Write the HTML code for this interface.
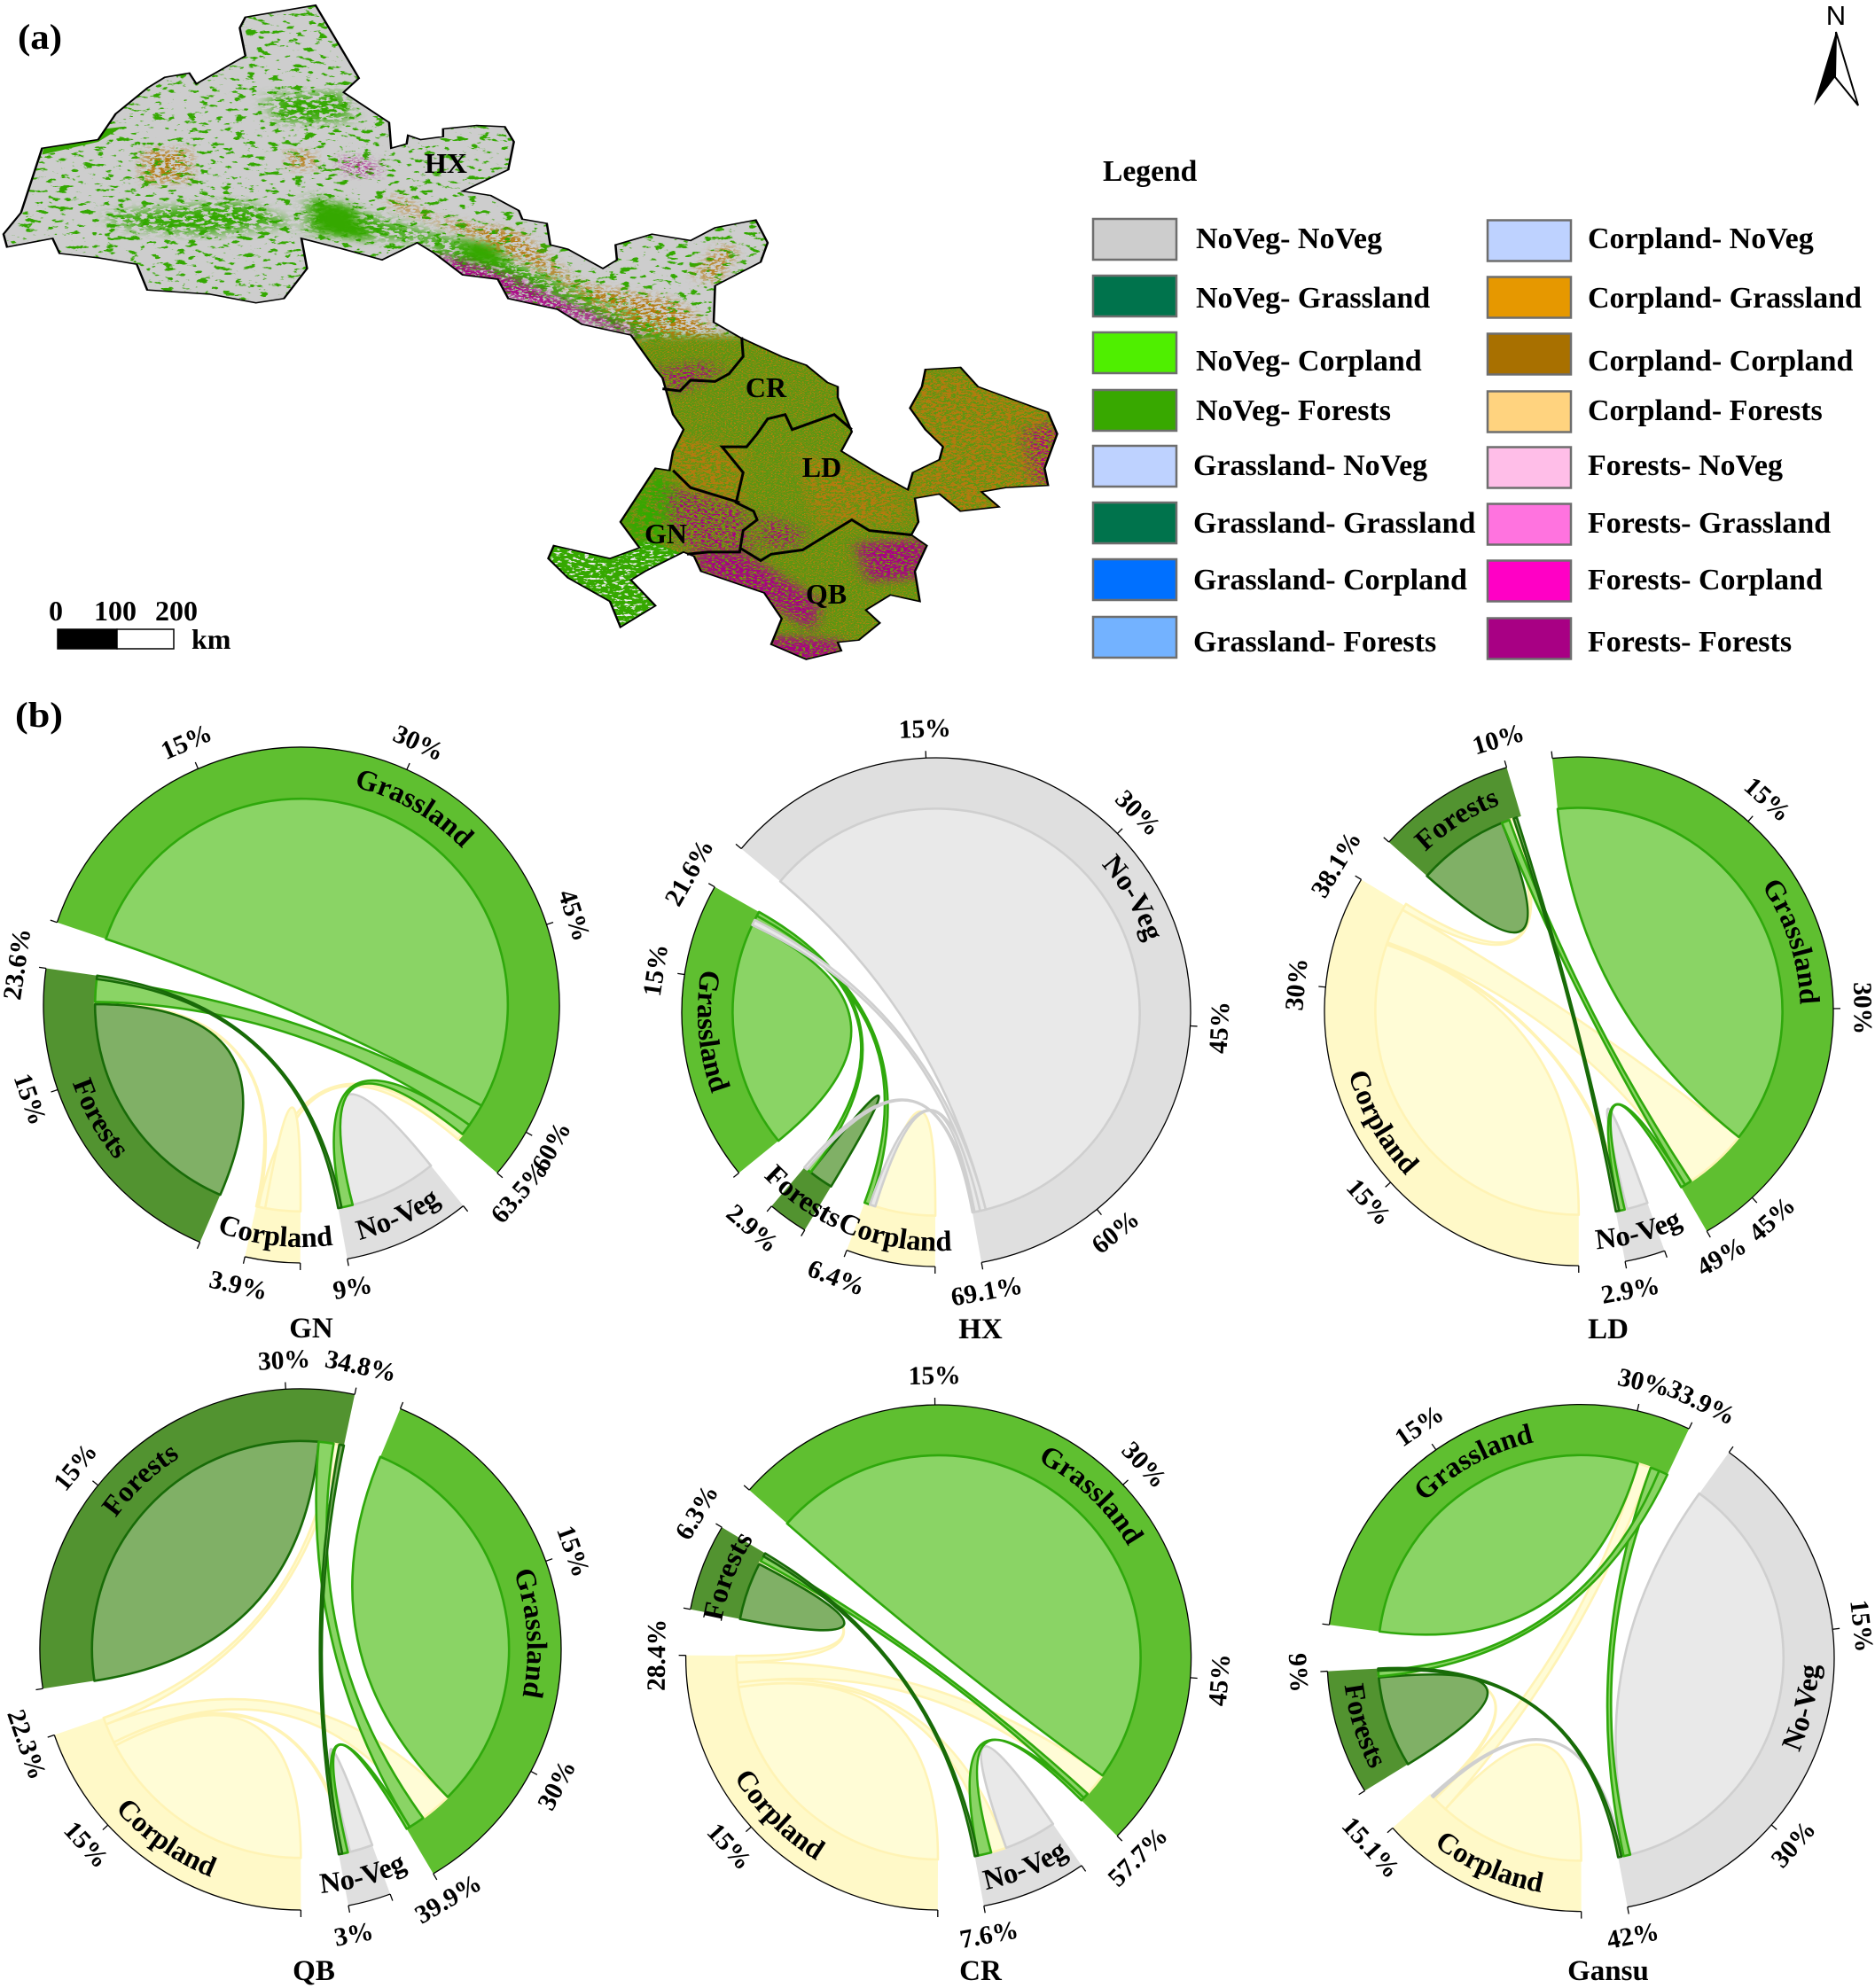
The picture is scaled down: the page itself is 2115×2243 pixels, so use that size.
<!DOCTYPE html>
<html lang="en">
<head>
<meta charset="utf-8">
<title>Land-use transition map and chord diagrams</title>
<style>
html,body{margin:0;padding:0;background:#fff;}
svg{display:block;}
text{font-family:"Liberation Serif",serif;font-weight:bold;fill:#000;}
</style>
</head>
<body>
<svg id="fig" xmlns="http://www.w3.org/2000/svg" width="2115" height="2243" viewBox="0 0 2115 2243">
<defs>
  <clipPath id="mapClip"><polygon id="mapShape" points="350,40 450,12 512,182 490,215 555,285 558,345 580,335 582,315 600,325 632,318 632,300 680,292 720,295 733,330 725,395 660,445 700,455 740,490 745,510 780,520 785,570 810,580 860,625 880,605 878,570 930,545 985,560 1020,530 1078,512 1095,565 1085,610 1020,665 1018,750 1055,785 1115,830 1150,850 1180,890 1195,900 1195,925 1205,965 1215,1005 1200,1050 1250,1100 1295,1140 1302,1100 1340,1070 1345,1040 1320,1000 1298,950 1315,900 1320,860 1370,855 1395,900 1495,960 1508,1010 1490,1090 1495,1130 1435,1135 1400,1145 1425,1180 1370,1190 1340,1150 1305,1160 1310,1215 1300,1245 1322,1270 1305,1330 1312,1400 1270,1385 1235,1420 1255,1450 1225,1490 1195,1495 1200,1515 1150,1535 1100,1500 1115,1440 1090,1380 1000,1330 990,1295 975,1285 920,1330 900,1350 935,1410 885,1460 870,1400 810,1345 782,1300 790,1270 870,1300 912,1275 885,1215 935,1090 955,1095 960,1050 975,1000 960,965 945,880 935,860 900,780 830,755 795,720 725,695 710,650 660,640 620,590 595,565 545,605 490,580 430,555 438,625 405,695 365,705 300,685 210,675 195,615 140,600 85,590 75,555 10,575 5,545 30,495 60,345 140,325 165,265 210,205 235,180 270,170 280,195 350,130 342,65"/></clipPath>

  <filter id="fSoft" x="-.2" y="-.2" width="1.4" height="1.4" color-interpolation-filters="sRGB">
    <feGaussianBlur stdDeviation="9"/>
  </filter>
  <filter id="fGreenSparse" x="0" y="0" width="1" height="1" color-interpolation-filters="sRGB">
    <feTurbulence type="fractalNoise" baseFrequency="0.06 0.1" numOctaves="4" seed="3"/>
    <feColorMatrix values="0 0 0 0 .2  0 0 0 0 .66  0 0 0 0 0  14 0 0 0 -8.5"/>
    <feComposite in2="SourceGraphic" operator="in"/>
  </filter>
  <filter id="fGreenDense" x="-.2" y="-.2" width="1.4" height="1.4" color-interpolation-filters="sRGB">
    <feGaussianBlur in="SourceAlpha" stdDeviation="12" result="m"/>
    <feTurbulence type="fractalNoise" baseFrequency="0.09 0.14" numOctaves="3" seed="8"/>
    <feColorMatrix values="0 0 0 0 .2  0 0 0 0 .66  0 0 0 0 0  14 0 0 0 -6"/>
    <feComposite in2="m" operator="in"/>
  </filter>
  <filter id="fBrown" x="-.2" y="-.2" width="1.4" height="1.4" color-interpolation-filters="sRGB">
    <feGaussianBlur in="SourceAlpha" stdDeviation="10" result="m"/>
    <feTurbulence type="fractalNoise" baseFrequency="0.14 0.22" numOctaves="3" seed="14"/>
    <feColorMatrix values="0 0 0 0 .71  0 0 0 0 .48  0 0 0 0 .06  14 0 0 0 -6.8"/>
    <feComposite in2="m" operator="in"/>
  </filter>
  <filter id="fBrownFine" x="0" y="0" width="1" height="1" color-interpolation-filters="sRGB">
    <feTurbulence type="fractalNoise" baseFrequency="0.38 0.55" numOctaves="2" seed="21"/>
    <feColorMatrix values="0 0 0 0 .74  0 0 0 0 .5  0 0 0 0 .05  14 0 0 0 -7.7"/>
    <feComposite in2="SourceGraphic" operator="in"/>
  </filter>
  <filter id="fMagenta" x="-.2" y="-.2" width="1.4" height="1.4" color-interpolation-filters="sRGB">
    <feGaussianBlur in="SourceAlpha" stdDeviation="12" result="m"/>
    <feTurbulence type="fractalNoise" baseFrequency="0.2 0.3" numOctaves="3" seed="31"/>
    <feColorMatrix values="0 0 0 0 .66  0 0 0 0 0  0 0 0 0 .52  14 0 0 0 -7"/>
    <feComposite in2="m" operator="in"/>
  </filter>
  <filter id="fMagentaDense" x="-.2" y="-.2" width="1.4" height="1.4" color-interpolation-filters="sRGB">
    <feGaussianBlur in="SourceAlpha" stdDeviation="10" result="m"/>
    <feTurbulence type="fractalNoise" baseFrequency="0.2 0.3" numOctaves="3" seed="35"/>
    <feColorMatrix values="0 0 0 0 .66  0 0 0 0 0  0 0 0 0 .52  14 0 0 0 -5.8"/>
    <feComposite in2="m" operator="in"/>
  </filter>
  <filter id="fWhite" x="0" y="0" width="1" height="1" color-interpolation-filters="sRGB">
    <feTurbulence type="fractalNoise" baseFrequency="0.12 0.2" numOctaves="3" seed="41"/>
    <feColorMatrix values="0 0 0 0 .92  0 0 0 0 .92  0 0 0 0 .92  14 0 0 0 -8.2"/>
    <feComposite in2="SourceGraphic" operator="in"/>
  </filter>
</defs>

<rect x="0" y="0" width="2115" height="2243" fill="#ffffff"/>

<g id="map" transform="scale(.7908,.4847)">
  <g clip-path="url(#mapClip)">
    <rect x="0" y="0" width="1560" height="1560" fill="#cdcdcd"/>
    <rect x="0" y="0" width="1120" height="800" fill="#000" filter="url(#fGreenSparse)"/>
    <polygon points="150,500 340,470 420,520 300,545 180,530" fill="#000" filter="url(#fGreenDense)"/>
    <polygon points="380,225 490,215 500,280 400,285" fill="#000" filter="url(#fGreenDense)"/>
    <polygon points="62,345 140,325 150,300 175,295 140,330 60,360" fill="#35a800"/>
    <polygon points="440,455 520,500 640,555 720,600 870,710 1000,800 920,800 800,700 680,640 600,560 440,540" fill="#000" filter="url(#fGreenDense)"/>
    <polygon points="445,470 500,480 530,560 450,540" fill="#35a800" filter="url(#fSoft)"/>
    <polygon points="650,555 710,570 720,620 670,610" fill="#35a800" filter="url(#fSoft)"/>
    <polygon points="560,450 620,510 740,540 820,660 960,700 1020,770 1060,800 950,800 860,720 760,620 660,540 560,480" fill="#000" filter="url(#fBrown)"/>
    <polygon points="205,350 270,350 270,420 205,425" fill="#000" filter="url(#fBrown)"/>
    <polygon points="410,350 450,360 445,395 415,390" fill="#000" filter="url(#fBrown)"/>
    <polygon points="485,365 540,385 535,410 490,395" fill="#000" filter="url(#fMagenta)"/>
    <polygon points="990,640 1030,570 1050,580 1020,660" fill="#000" filter="url(#fBrown)"/>
    <polygon points="620,590 720,640 830,720 900,770 925,800 860,760 740,700 640,640" fill="#000" filter="url(#fMagentaDense)"/>
    <polygon points="880,790 1060,780 1560,780 1560,1560 740,1560 740,1100 930,1000" fill="#5b9612" filter="url(#fSoft)"/>
    <polygon points="880,790 1060,780 1560,780 1560,1560 740,1560 740,1100 930,1000" fill="#000" filter="url(#fBrownFine)"/>
    <polygon points="1300,870 1520,870 1520,1200 1300,1200" fill="#000" filter="url(#fBrown)"/>
    <polygon points="950,1010 1060,1040 1060,1180 960,1130" fill="#000" filter="url(#fBrown)"/>
    <polygon points="1130,1050 1280,1120 1290,1220 1170,1230" fill="#000" filter="url(#fBrown)"/>
    <polygon points="950,1130 1060,1180 1075,1285 985,1285 950,1200" fill="#000" filter="url(#fMagenta)"/>
    <polygon points="985,1285 1060,1285 1170,1400 1160,1470 1090,1400 1000,1340" fill="#000" filter="url(#fMagentaDense)"/>
    <polygon points="1085,1195 1150,1240 1130,1280 1085,1270" fill="#000" filter="url(#fMagenta)"/>
    <polygon points="1095,1480 1200,1490 1210,1550 1090,1550" fill="#000" filter="url(#fMagentaDense)"/>
    <polygon points="1220,1265 1320,1255 1335,1340 1240,1355" fill="#000" filter="url(#fMagentaDense)"/>
    <polygon points="1460,1000 1520,980 1515,1135 1475,1125" fill="#000" filter="url(#fMagenta)"/>
    <polygon points="935,860 1000,845 1035,860 960,920" fill="#000" filter="url(#fMagenta)"/>
    <polygon points="770,1260 930,1260 975,1290 945,1470 860,1470 770,1340" fill="#35a800"/>
    <polygon points="770,1260 930,1260 975,1290 945,1470 860,1470 770,1340" fill="#000" filter="url(#fWhite)"/>
    <polygon points="885,1215 935,1090 960,1110 950,1260 912,1280" fill="#000" filter="url(#fGreenDense)"/>
  </g>
  <use href="#mapShape" fill="none" stroke="#000" stroke-width="3.2" style="vector-effect:non-scaling-stroke"/>
  <polyline points="1058,785 1060,830 1040,870 1020,888 985,885 970,910 945,905" fill="none" stroke="#000" stroke-width="3" style="vector-effect:non-scaling-stroke"/>
  <polyline points="1215,1000 1190,965 1130,1000 1120,965 1095,975 1080,1010 1065,1040 1030,1040 1060,1100 1050,1170 1075,1190 1080,1210 1060,1235 1055,1285 1010,1285 980,1290" fill="none" stroke="#000" stroke-width="3" style="vector-effect:non-scaling-stroke"/>
  <polyline points="1055,1275 1085,1305 1100,1290 1145,1280 1175,1250 1215,1210 1240,1235 1300,1245" fill="none" stroke="#000" stroke-width="3" style="vector-effect:non-scaling-stroke"/>
  <polyline points="960,1095 985,1135 1055,1170" fill="none" stroke="#000" stroke-width="3" style="vector-effect:non-scaling-stroke"/>
</g>

<text x="20" y="55" font-size="40" textLength="50" lengthAdjust="spacingAndGlyphs">(a)</text>
<text x="17" y="820" font-size="40" textLength="54" lengthAdjust="spacingAndGlyphs">(b)</text>

<text x="503" y="195" font-size="32" text-anchor="middle">HX</text>
<text x="864" y="448" font-size="32" text-anchor="middle">CR</text>
<text x="927" y="538" font-size="32" text-anchor="middle">LD</text>
<text x="751" y="613" font-size="32" text-anchor="middle">GN</text>
<text x="932" y="681" font-size="32" text-anchor="middle">QB</text>

<g>
  <text x="63" y="700" font-size="32" text-anchor="middle">0</text>
  <text x="130" y="700" font-size="32" text-anchor="middle">100</text>
  <text x="199" y="700" font-size="32" text-anchor="middle">200</text>
  <rect x="65" y="710" width="67" height="22" fill="#000" stroke="#000" stroke-width="1.5"/>
  <rect x="132" y="710" width="64" height="22" fill="#fff" stroke="#000" stroke-width="1.5"/>
  <text x="216" y="732" font-size="32">km</text>
</g>

<g>
  <text x="2071" y="28" font-size="31" text-anchor="middle" style="font-family:'Liberation Sans',sans-serif;font-weight:normal">N</text>
  <polygon points="2071,36 2046,119 2070,87" fill="#000"/>
  <polygon points="2071,36 2096,119 2070,87" fill="#fff" stroke="#000" stroke-width="2"/>
</g>

<text x="1244" y="204" font-size="33.6">Legend</text>
<g id="legend"></g>
<g id="charts"></g>
</svg>

<script>
// ---------- Legend ----------
const legendLabels = ['NoVeg- NoVeg','NoVeg- Grassland','NoVeg- Corpland','NoVeg- Forests','Grassland- NoVeg','Grassland- Grassland','Grassland- Corpland','Grassland- Forests','Corpland- NoVeg','Corpland- Grassland','Corpland- Corpland','Corpland- Forests','Forests- NoVeg','Forests- Grassland','Forests- Corpland','Forests- Forests'];
const legendColors = ['#cdcdcd','#00734c','#4fef00','#38a800','#bed2ff','#00734c','#0070ff','#73b2ff','#bed2ff','#e69800','#a87000','#ffd37f','#ffbee8','#ff73df','#ff00c5','#a80084'];

// ---------- Chord data: sector keys, sector totals (%), links [a, b, % at a, % at b], clockwise slot order ----------
const gnSectors = ['G','N','C','F'];
const gnTotals = [63.5, 9, 3.9, 23.6];
const gnLinks = [['C','G',.6,.6],['C','C',3.1,0],['C','F',.2,.2],['N','N',7.7,0],['F','F',21.1,0],['G','G',59.9,0],['G','F',2.0,2.0],['G','N',1.0,1.0],['F','N',.3,.3]];
const gnOrder = [['G','F','N','C'],['N','G','F'],['C','G','F'],['F','C','G','N']];

const hxSectors = ['N','C','F','G'];
const hxTotals = [69.1, 6.4, 2.9, 21.6];
const hxLinks = [['C','C',5.4,0],['N','N',67.9,0],['G','G',20.3,0],['F','F',2.2,0],['G','F',.4,.4],['G','C',.4,.5],['N','F',.2,.3],['N','C',.5,.5],['N','G',.5,.5]];
const hxOrder = [['N','G','C','F'],['C','N','G'],['F','G','N'],['G','N','C','F']];

const ldSectors = ['G','N','C','F'];
const ldTotals = [49, 2.9, 38.1, 10];
const ldLinks = [['C','C',34.3,0],['C','G',3.2,5.8],['C','F',.6,.4],['C','N',.2,.2],['N','N',1.9,0],['G','G',42.2,0],['F','F',8.2,0],['G','F',.6,.7],['G','N',.4,.5],['F','N',.3,.3]];
const ldOrder = [['G','C','F','N'],['N','C','G','F'],['C','N','G','F'],['F','G','C','N']];

const qbSectors = ['G','N','C','F'];
const qbTotals = [39.9, 3, 22.3, 34.8];
const qbLinks = [['C','C',19.7,0],['C','G',1.7,2.8],['C','N',.3,.2],['C','F',.6,.5],['N','N',2.0,0],['G','G',35.4,0],['F','F',32.6,0],['G','F',1.4,1.3],['G','N',.3,.5],['F','N',.4,.3]];
const qbOrder = [['G','C','F','N'],['N','C','G','F'],['C','N','G','F'],['F','G','C','N']];

const crSectors = ['G','N','C','F'];
const crTotals = [57.7, 7.6, 28.4, 6.3];
const crLinks = [['C','C',25.6,0],['C','G',1.8,2.1],['C','N',.4,1.4],['C','F',.6,.3],['N','N',4.7,0],['G','G',54.8,0],['F','F',5.2,0],['G','F',.5,.5],['G','N',.3,1.2],['F','N',.3,.3]];
const crOrder = [['G','C','F','N'],['N','C','G','F'],['C','N','G','F'],['F','C','G','N']];

const gansuSectors = ['N','C','F','G'];
const gansuTotals = [42, 15.1, 9, 33.9];
const gansuLinks = [['C','C',13.2,0],['C','G',1.3,1.2],['C','F',.2,.1],['N','N',40.9,0],['N','C',.2,.2],['G','G',31.1,0],['F','F',8.2,0],['G','N',.8,.6],['G','F',.8,.5],['F','N',.2,.3]];
const gansuOrder = [['N','G','C','F'],['C','G','F','N'],['F','C','G','N'],['G','C','N','F']];

const tickStep = 15;
const degreesPerPercent = 3.18;
const gapDegrees = 10.5;

const sectorLabels = {G:'Grassland',N:'No-Veg',C:'Corpland',F:'Forests'};
const trackFill = {G:'#5fbf30',N:'#dfdfdf',C:'#fff9c8',F:'#529330'};
const ribbonFill = {G:'#8ad465',N:'#e9e9e9',C:'#fffcd6',F:'#80b066'};
const ribbonStroke = {G:'#2fa80c',N:'#cfcfcf',C:'#fff3b5',F:'#186b08'};

const chartLayouts = [
  {title:'GN',titleX:351,titleY:1509,cx:340,cy:1134,r:291,start:-71.3,sectors:gnSectors,totals:gnTotals,links:gnLinks,order:gnOrder},
  {title:'HX',titleX:1106,titleY:1510,cx:1056,cy:1142,r:287,start:-50,sectors:hxSectors,totals:hxTotals,links:hxLinks,order:hxOrder},
  {title:'LD',titleX:1814,titleY:1510,cx:1781,cy:1141,r:287,start:-6,sectors:ldSectors,totals:ldTotals,links:ldLinks,order:ldOrder},
  {title:'QB',titleX:354,titleY:2234,cx:339,cy:1861,r:294,start:22.5,sectors:qbSectors,totals:qbTotals,links:qbLinks,order:qbOrder},
  {title:'CR',titleX:1106,titleY:2234,cx:1058.6,cy:1870,r:285,start:-48.5,sectors:crSectors,totals:crTotals,links:crLinks,order:crOrder},
  {title:'Gansu',titleX:1814,titleY:2234,cx:1783,cy:1870.6,r:286,start:35.8,sectors:gansuSectors,totals:gansuTotals,links:gansuLinks,order:gansuOrder}
];

const NS = 'http://www.w3.org/2000/svg';
function make(tag, parent){
  const el = document.createElementNS(NS, tag);
  parent.appendChild(el);
  return el;
}
function fmt(n){ return Number(n.toFixed(2)); }

// Legend
(function(){
  const parent = document.getElementById('legend');
  const rowTops = [247,311,375,440,503,567,631,696];
  const rowBase = [280,347,418,474,536,601,665,735];
  legendLabels.forEach(function(label, i){
    const col = i < 8 ? 0 : 1;
    const row = i % 8;
    const sw = make('rect', parent);
    
    
    sw.setAttribute('x', col ? 1678 : 1233);
    sw.setAttribute('y', rowTops[row] + (col ? 1.5 : 0));
    sw.setAttribute('width', 94);
    sw.setAttribute('height', 46);
    sw.setAttribute('fill', legendColors[i]);
    sw.setAttribute('stroke', '#6e6e6e');
    sw.setAttribute('stroke-width', 2.5);
    const tx = make('text', parent);
    
    
    tx.setAttribute('x', col ? 1791 : (i >= 4 ? 1346 : 1349));
    tx.setAttribute('y', rowBase[row]);
    tx.setAttribute('font-size', 34);
    tx.textContent = label;
  });
})();

// Chord diagrams
chartLayouts.forEach(function(chart, chartIndex){
  const root = document.getElementById('charts');
  const group = make('g', root);
  
  

  const R = chart.r, inner = R * 0.8;
  const pt = function(angle, rad){
    const t = angle * Math.PI / 180;
    return [fmt(chart.cx + rad * Math.sin(t)), fmt(chart.cy - rad * Math.cos(t))];
  };
  const arcTo = function(from, to, rad){
    const p = pt(to, rad);
    const large = Math.abs(to - from) > 180 ? 1 : 0;
    const sweep = to > from ? 1 : 0;
    return 'A' + rad + ' ' + rad + ' 0 ' + large + ' ' + sweep + ' ' + p[0] + ' ' + p[1];
  };

  // angle axis: percent inside a sector -> degrees
  const sectorStart = {};
  let angle = chart.start;
  chart.sectors.forEach(function(key, i){
    sectorStart[key] = angle;
    angle += chart.totals[i] * degreesPerPercent + gapDegrees;
  });

  // tracks, axis arcs, ticks, tick labels
  chart.sectors.forEach(function(key, i){
    const a0 = sectorStart[key];
    const total = chart.totals[i];
    const a1 = a0 + total * degreesPerPercent;

    const p0 = pt(a0, R), p1 = pt(a1, inner);
    const track = make('path', group);
    
    
    track.setAttribute('d', 'M' + p0[0] + ' ' + p0[1] + arcTo(a0, a1, R) + 'L' + p1[0] + ' ' + p1[1] + arcTo(a1, a0, inner) + 'Z');
    track.setAttribute('fill', trackFill[key]);

    const axis = make('path', group);
    
    
    axis.setAttribute('d', 'M' + p0[0] + ' ' + p0[1] + arcTo(a0, a1, R));
    axis.setAttribute('fill', 'none');
    axis.setAttribute('stroke', '#000');
    axis.setAttribute('stroke-width', 1.3);

    const ticks = [0];
    for (let v = tickStep; v < total - 1; v += tickStep) ticks.push(v);
    ticks.push(total);
    ticks.forEach(function(v){
      const ta = a0 + v * degreesPerPercent;
      const t0 = pt(ta, R), t1 = pt(ta, R + 8);
      const tick = make('line', group);
      
      
      tick.setAttribute('x1', t0[0]);
      tick.setAttribute('y1', t0[1]);
      tick.setAttribute('x2', t1[0]);
      tick.setAttribute('y2', t1[1]);
      tick.setAttribute('stroke', '#000');
      tick.setAttribute('stroke-width', 1.3);
      if (v === 0) return;
      const lp = pt(ta, R + 33);
      const norm = ((ta % 360) + 360) % 360;
      const rot = (norm > 90 && norm < 270) ? norm - 180 : (norm >= 270 ? norm - 360 : norm);
      const label = make('text', group);
      
      
      label.setAttribute('text-anchor', 'middle');
      label.setAttribute('font-size', 29.5);
      label.setAttribute('transform', 'translate(' + lp[0] + ' ' + lp[1] + ') rotate(' + fmt(rot) + ') translate(0 9.5)');
      label.textContent = v + '%';
    });
  });

  // slot positions per link end
  const findLink = function(a, b){
    return chart.links.findIndex(function(l){ return (l[0] === a && l[1] === b) || (l[0] === b && l[1] === a); });
  };
  const ends = chart.links.map(function(){ return {}; });
  chart.sectors.forEach(function(key, i){
    let pos = sectorStart[key];
    chart.order[i].forEach(function(partner){
      const idx = findLink(key, partner);
      if (idx < 0) return;
      const link = chart.links[idx];
      const value = link[0] === key ? link[2] : link[3];
      const span = value * degreesPerPercent;
      ends[idx][key] = [pos, pos + span];
      pos += span;
    });
  });

  // ribbons drawn from the links array
  chart.links.forEach(function(link, idx){
    const a = link[0], b = link[1];
    const ea = ends[idx][a];
    const eb = ends[idx][b];
    const c = chart.cx + ' ' + chart.cy;
    const pa = pt(ea[0], inner);
    let d = 'M' + pa[0] + ' ' + pa[1] + arcTo(ea[0], ea[1], inner);
    if (a === b) {
      d += 'Q' + c + ' ' + pa[0] + ' ' + pa[1] + 'Z';
    } else {
      const pb = pt(eb[0], inner);
      d += 'Q' + c + ' ' + pb[0] + ' ' + pb[1] + arcTo(eb[0], eb[1], inner) + 'Q' + c + ' ' + pa[0] + ' ' + pa[1] + 'Z';
    }
    const ribbon = make('path', group);
    
    
    ribbon.setAttribute('d', d);
    ribbon.setAttribute('fill', ribbonFill[a]);
    ribbon.setAttribute('stroke', ribbonStroke[a]);
    ribbon.setAttribute('stroke-width', 2.6);
    ribbon.setAttribute('stroke-linejoin', 'round');
  });

  // sector labels bent along the arc
  chart.sectors.forEach(function(key, i){
    const mid = sectorStart[key] + chart.totals[i] * degreesPerPercent / 2;
    const norm = ((mid % 360) + 360) % 360;
    const lower = norm > 90 && norm < 270;
    const rad = lower ? R * 0.938 : R * 0.87;
    const from = lower ? mid + 89 : mid - 89;
    const to = lower ? mid - 89 : mid + 89;
    const ps = pt(from, rad);
    const guide = make('path', group);
    guide.setAttribute('id', 'guide-' + chartIndex + '-' + key);
    
    
    guide.setAttribute('d', 'M' + ps[0] + ' ' + ps[1] + arcTo(from, to, fmt(rad)));
    guide.setAttribute('fill', 'none');
    const label = make('text', group);
    
    
    label.setAttribute('font-size', 32.5);
    label.setAttribute('text-anchor', 'middle');
    const tp = make('textPath', label);
    tp.setAttribute('href', '#guide-' + chartIndex + '-' + key);
    tp.setAttribute('startOffset', '50%');
    tp.textContent = sectorLabels[key];
  });

  const title = make('text', group);
  
  
  title.setAttribute('x', chart.titleX);
  title.setAttribute('y', chart.titleY);
  title.setAttribute('font-size', 33);
  title.setAttribute('text-anchor', 'middle');
  title.textContent = chart.title;
});
</script>
</body>
</html>
